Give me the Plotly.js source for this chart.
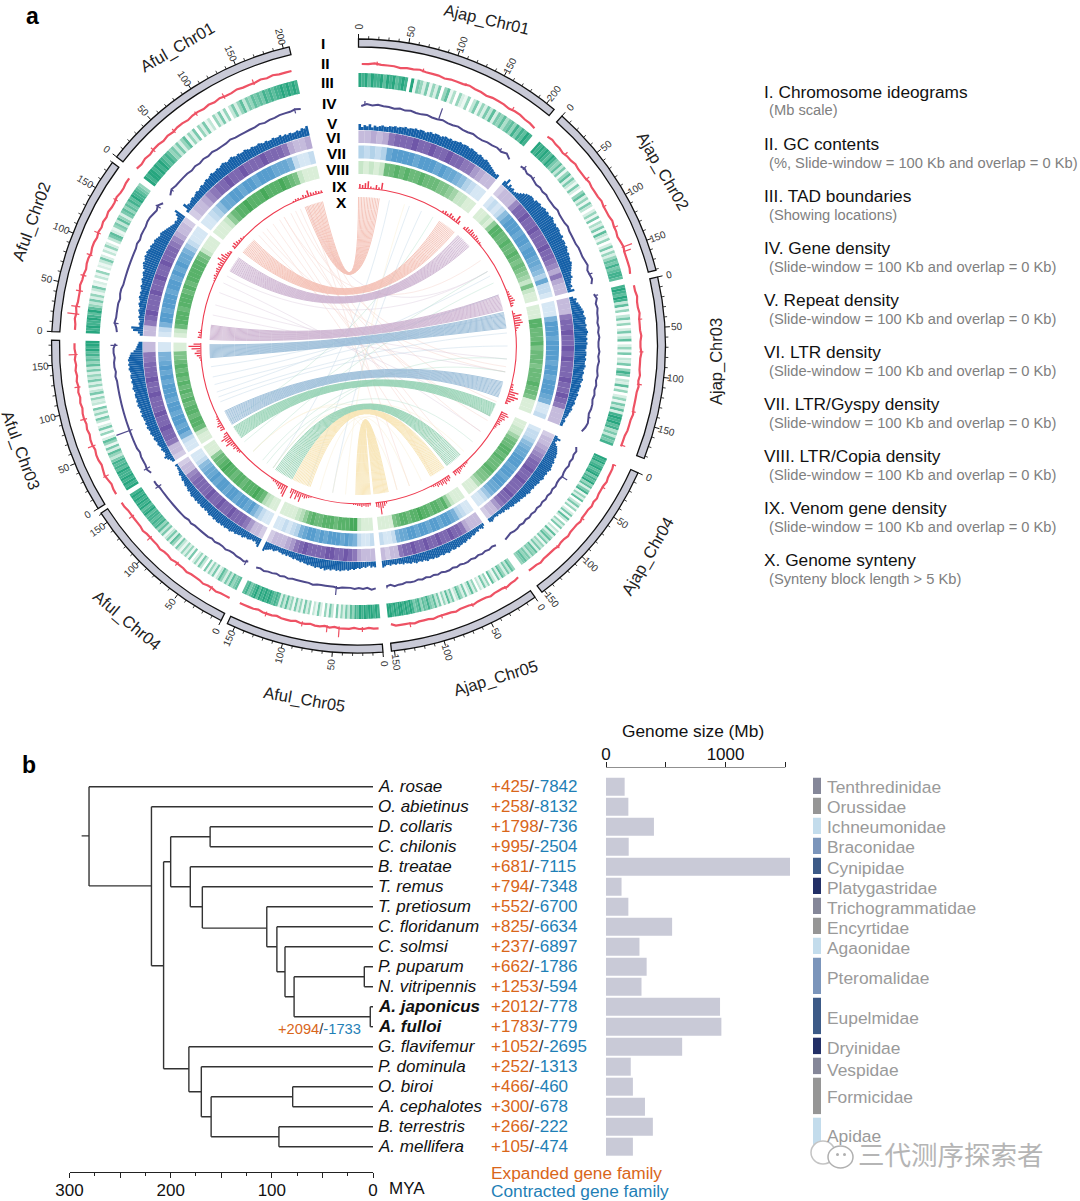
<!DOCTYPE html>
<html><head><meta charset="utf-8">
<script src="https://cdn.plot.ly/plotly-3.0.1.min.js"></script>
<style>html,body{margin:0;padding:0;background:#fff}#c{width:1080px;height:1201px}</style>
</head><body><div id="c"></div>
<script>
// ---------- panel a: chromosomes (clockwise from the top)
const chromNames=['Ajap_Chr01','Ajap_Chr02','Ajap_Chr03','Ajap_Chr04','Ajap_Chr05','Aful_Chr05','Aful_Chr04','Aful_Chr03','Aful_Chr02','Aful_Chr01'];
const chromMb=[209.5,181,182.5,153,153,158,161,175,180,206];
const chromGapDeg=[1.9,1.3,2.9,1.6,1.6,1.3,1,1.6,1.3];
const gcValues=[
[30,30,31,30,30,30,29,30,30,31,30,30,30,29,30,30,30,31,30,30,29,30,30,30,29,30,30,29,29,28],
[30,31,30,30,29,30,30,31,30,30,30,31,30,30,30,31,30,30,30,31,30,30,29,30,31,30,30,30,30,29],
[30,30,31,30,30,31,30,30,30,31,30,30,31,30,30,30,31,30,31,30,30,30,30,31,30,30,30,29,29,29],
[29,30,30,30,31,30,30,30,31,30,31,30,30,30,31,30,30,30,31,30,30,31,30,30,30,30,31,30,30,30],
[29,30,30,31,30,30,30,31,30,30,30,31,30,30,30,31,30,30,30,30,31,30,30,30,31,30,30,30,30,28],
[31,31,30,31,31,30,31,31,31,30,31,30,31,31,30,31,31,30,31,31,31,30,31,31,31,30,31,31,31,31],
[31,31,31,32,31,31,32,31,31,31,32,31,31,31,32,31,31,32,31,31,31,31,32,31,31,31,31,31,32,32],
[32,32,31,32,33,32,31,32,32,31,32,32,31,32,31,32,32,31,32,31,32,31,32,31,32,31,32,31,32,32],
[32,32,33,32,33,32,32,32,33,32,32,31,32,32,31,32,32,31,32,31,32,31,32,31,31,32,31,31,32,32],
[32,31,32,31,32,32,31,32,31,32,32,31,32,32,31,32,31,32,31,31,32,31,31,31,32,31,32,31,31,31]];
const gcSpikes=[[1,148,292],[1,153,289],[2,178,285],[3,3,284],[5,45,292],[5,58,288],[7,60,289],[7,160,290],[8,20,293],[8,28,290],[8,62,287],[9,60,286],
[0,20,285],[0,70,285],[0,118,284],[0,175,285],[1,30,285],[1,65,286],[1,100,285],[1,125,286],[2,40,285],[2,75,285],[2,110,286],[2,140,285],[3,30,285],[3,70,285],[3,110,285],
[4,20,285],[4,60,285],[4,95,285],[4,130,286],[5,20,286],[5,85,286],[5,125,286],[6,25,287],[6,70,286],[6,110,287],[6,140,287],[7,25,287],[7,90,288],[7,125,287],[8,45,288],[8,85,287],[8,110,288],[8,150,286],[9,30,287],[9,90,286],[9,125,287],[9,160,287]];
const tadValues=[
[9,8,9,7,9,8,8,9,7,9,8,9,7,8,9,8,0,9,1,6,5,2,6,1,5,2,6,0,5,7,1,4,0,5,2,1,5,0,3,6,1,5,2,6,3,7,2,6,5,7,4,6,7,5,8,6,8,7,9,8],
[9,8,9,8,9,8,7,9,8,6,5,7,3,6,1,5,7,2,6,3,1,6,2,0,5,7,2,5,1,6,3,0,2,5,1,6,0,4,2,6,1,7,3,1,5,0,2,6,1,5,2,5,7,6,8,6,7,8,8,7],
[8,9,8,7,9,8,3,7,1,5,0,3,6,1,5,0,2,6,1,3,7,0,2,5,1,6,0,3,2,6,0,5,8,6,0,3,2,7,1,5,0,2,5,1,6,3,7,2,8,9,8,9,7,8,4,6,3,7,6,8],
[9,8,9,7,8,9,7,8,9,6,8,7,9,5,7,2,6,8,1,5,2,7,0,3,6,1,5,0,2,6,1,7,3,0,5,2,6,0,3,1,7,2,5,7,3,6,1,5,3,6,2,7,5,6,3,6,5,7,6,5],
[5,7,3,6,2,5,7,2,6,1,3,7,0,5,2,6,1,3,0,5,2,7,3,1,6,2,5,7,3,1,6,3,7,2,5,1,6,3,7,5,6,8,6,7,5,8,7,6,8,9,8,9,8,9,9,8,9,8,9,9],
[8,9,8,9,9,8,9,8,9,7,8,5,7,3,6,2,5,1,6,0,3,6,1,5,0,2,6,1,3,0,5,2,6,1,5,2,6,1,5,3,7,3,6,2,7,8,7,8,9,8,9,8,9,7,9,8,7,6,8,7],
[7,6,5,7,3,6,2,5,7,3,1,6,2,5,1,6,0,3,6,1,5,2,0,6,1,5,2,5,1,3,6,1,5,7,2,6,3,1,6,3,7,5,8,7,8,7,8,8,7,9,8,7,9,8,9,8,9,8,9,8],
[9,8,9,8,9,8,8,9,7,8,7,8,6,3,5,7,2,6,1,5,7,2,0,5,1,6,2,0,3,6,1,5,2,6,0,3,2,5,1,6,3,1,5,2,6,3,5,2,6,3,7,5,7,6,8,7,9,8,9,9],
[9,8,9,8,8,9,8,7,9,7,5,3,6,2,5,1,3,6,1,2,0,3,1,5,0,2,1,3,6,2,0,3,1,5,2,0,3,6,7,2,1,5,6,3,7,5,2,6,7,5,7,6,8,7,9,8,8,7,6,5],
[9,8,9,9,8,9,8,9,8,7,8,7,5,6,3,6,2,5,7,1,5,2,6,0,5,2,6,1,3,0,5,2,6,1,5,0,3,6,2,5,7,3,6,5,7,6,7,6,8,7,8,7,8,8,9,8,9,8,9,8]];
const geneValues=[
[4,6,5,6,5,5,4,5,4,5,4,4,5,4,4,5,4,4,5,4,4,5,4,4,5,5,6,5,7,4],
[6,7,5,6,5,4,5,4,5,4,4,4,5,4,4,4,5,4,4,4,4,5,5,5,6,7,5,6,7,5],
[5,7,5,6,5,5,4,5,4,5,4,4,5,4,5,4,4,5,4,5,4,5,4,5,5,4,5,6,5,3],
[4,6,5,6,5,6,5,5,6,5,5,6,5,6,5,6,5,6,5,6,5,6,5,6,5,6,6,5,6,7],
[6,5,6,5,6,5,6,5,6,6,5,6,5,6,6,5,6,5,6,5,6,5,6,6,5,6,6,7,5,6],
[7,8,6,7,6,7,6,6,6,7,6,6,6,6,6,7,6,6,6,6,6,7,6,7,6,7,7,8,7,8],
[6,8,7,7,6,6,7,6,6,7,6,7,7,7,7,7,8,7,8,8,8,8,8,8,8,8,8,8,9,9],
[7,9,8,8,8,7,8,8,8,8,8,8,8,8,8,8,8,8,8,8,8,8,9,8,9,9,8,9,9,7],
[6,7,9,8,8,8,8,7,8,8,7,7,7,7,7,7,7,7,7,8,7,8,8,8,9,9,8,7,9,6],
[5,8,7,7,7,7,6,7,6,7,6,7,6,6,6,7,6,6,6,6,6,7,6,7,7,8,8,8,9,8]];
const geneSpikes=[[0,103,252],[3,44,248],[5,52,250],[7,62,258],[8,14,246],[0,8,245],[0,190,244],[1,8,246],[1,25,244],[1,165,245],[2,5,245],[2,160,243],[4,150,244],[6,5,247],[6,150,248],[7,10,248],[7,170,248],[8,170,247],[9,195,246],[9,10,244]];
const repeatValues=[
[6,3,5,4,6,3,5,4,5,6,5,5,6,6,7,6,7,7,8,7,8,8,9,8,9,9,8,9,10,9,10,10,9,10,11,10,11,10,11,11,12,11,12,12,11,12,11,11,10,11,10,9,10,9,8,7,6,5,4,5],
[5,9,3,6,4,5,3,4,5,7,9,11,12,13,13,12,14,14,15,14,15,16,15,16,15,16,17,16,15,16,15,16,16,15,15,16,14,15,15,14,15,14,13,14,13,13,12,13,12,11,10,9,8,9,7,6,5,6,4,7],
[4,7,6,8,9,10,11,12,11,12,13,12,12,13,12,13,14,13,12,13,12,13,12,12,11,12,12,11,12,11,11,12,11,10,11,10,10,11,10,9,10,9,9,8,9,8,8,7,8,7,6,7,6,5,5,4,3,4,3,3],
[3,7,4,3,5,7,8,9,10,10,11,10,11,12,11,12,12,13,12,11,12,11,11,12,11,10,11,10,10,9,10,9,9,10,9,8,9,8,8,7,8,7,7,6,7,6,5,6,5,4,5,4,4,3,4,3,3,4,5,4],
[3,5,4,3,5,4,5,6,5,6,7,6,7,8,7,8,8,9,8,9,9,8,9,10,9,9,10,9,9,10,10,9,10,9,9,10,9,8,9,8,8,9,8,7,8,7,7,6,7,6,6,5,6,5,5,6,5,5,6,7],
[6,5,6,4,5,6,5,6,7,6,7,8,7,8,9,8,9,9,10,9,10,9,9,10,9,10,11,9,10,9,9,10,9,9,8,9,8,8,7,8,7,7,6,7,6,6,5,6,5,6,5,5,4,5,6,5,6,7,8,10],
[9,7,5,6,5,6,7,6,7,8,7,8,8,9,8,9,10,9,9,10,9,10,9,10,10,9,10,9,9,10,9,8,9,8,9,9,8,9,8,9,8,8,9,8,7,8,7,6,7,6,5,6,5,4,5,4,3,3,2,3],
[3,4,6,8,6,5,6,7,6,7,8,7,8,9,8,9,10,9,10,11,10,11,10,11,11,12,11,12,11,12,13,12,13,12,13,13,12,13,14,13,13,14,13,14,14,13,14,15,14,15,14,15,14,13,12,9,7,6,5,4],
[3,5,10,12,4,5,4,5,6,5,6,7,6,7,8,7,8,9,8,9,8,9,10,9,10,11,10,11,12,11,13,14,15,14,15,16,15,16,15,14,15,14,13,14,13,12,11,12,11,10,9,8,7,6,5,6,5,6,9,12],
[3,9,6,5,6,7,6,7,8,7,8,9,8,9,10,9,10,11,10,10,11,10,11,12,11,10,11,12,11,10,11,10,10,11,10,9,10,9,9,10,9,8,9,8,8,9,8,8,9,7,8,7,8,7,7,8,7,9,8,10]];
const ltrHeat=[
[3,3,4,3,4,7,8,8,8,9,8,8,9,8,8,9,8,8,7,7,5,4,3,3],
[2,3,3,3,6,8,8,9,8,8,9,8,8,8,9,8,8,7,6,4,7,4,3,3],
[3,3,3,7,8,8,9,8,8,9,8,9,8,8,8,9,8,8,9,8,7,3,3,3],
[2,3,3,4,5,6,7,8,8,9,8,8,9,8,8,8,9,8,8,7,5,3,3,2],
[3,3,3,4,7,8,8,9,8,8,9,8,8,9,8,8,9,8,8,7,3,3,2,3],
[3,3,3,4,7,8,9,8,8,9,9,8,8,8,8,9,8,7,5,4,3,3,3,2],
[2,3,3,5,7,8,8,8,9,8,8,9,8,8,9,8,8,8,8,7,6,3,3,2],
[2,3,3,7,8,8,9,8,8,9,8,8,8,9,8,8,9,8,8,8,7,7,3,3],
[3,3,7,8,9,8,8,8,9,8,8,9,8,8,9,8,8,8,7,6,4,3,3,2],
[2,3,3,4,6,7,8,8,9,8,8,9,8,8,8,9,8,8,8,7,4,3,3,4]];
const gypsyHeat=[
[3,2,3,2,3,7,8,8,8,8,7,8,8,8,7,8,7,7,6,5,3,2,1,1],
[1,2,1,2,5,7,8,8,8,7,8,8,7,8,8,7,7,6,5,3,7,2,2,1],
[1,1,1,6,8,8,8,7,8,8,8,8,7,8,8,7,8,8,8,7,6,1,1,2],
[1,2,2,3,5,6,7,7,8,8,8,7,8,8,7,8,8,7,7,6,4,2,1,1],
[1,1,2,3,6,7,8,8,7,8,8,7,8,8,7,8,8,7,7,6,2,1,1,2],
[2,1,1,2,6,7,8,7,8,8,8,7,8,7,8,8,7,6,3,2,1,2,1,1],
[1,1,2,4,6,8,7,8,8,7,8,8,7,8,8,7,8,7,7,6,5,2,1,1],
[1,1,2,6,8,7,8,8,7,8,8,7,8,8,8,7,8,7,8,7,6,6,1,1],
[1,2,6,8,8,7,8,8,8,7,8,8,7,8,7,8,7,7,6,4,2,1,1,1],
[1,1,2,3,5,7,7,8,8,7,8,8,7,8,8,8,7,7,7,6,2,1,1,2]];
const copiaHeat=[
[2,1,2,1,2,7,7,8,7,8,7,7,8,7,7,7,6,6,5,4,2,2,1,1],
[1,1,2,1,5,8,8,7,7,8,7,7,8,7,6,7,6,5,4,2,6,2,1,1],
[1,1,1,8,8,7,7,7,8,6,7,7,7,6,7,7,7,8,7,7,6,1,1,1],
[1,1,2,2,4,6,7,7,8,8,7,8,7,7,7,8,7,6,6,5,3,1,1,1],
[1,1,1,2,5,8,7,8,8,7,8,8,9,8,8,7,8,8,7,6,1,1,1,1],
[1,1,1,2,9,9,8,8,8,7,8,8,8,7,7,8,7,5,3,2,1,1,1,1],
[1,1,2,3,7,8,9,8,8,8,7,8,8,7,8,8,9,8,7,7,5,1,1,1],
[1,1,2,7,8,8,7,8,8,7,8,7,8,7,8,7,8,7,8,7,6,6,1,1],
[1,2,7,8,8,8,7,8,8,8,7,8,7,8,8,8,8,8,7,6,2,1,1,1],
[1,1,1,2,5,7,8,8,9,8,8,8,9,8,8,8,9,8,7,6,2,1,1,1]];
const venomValues=[
[4,3,5,7,2,1,4,2,7,0,0,0,0,0,0,0,0,0,0,0,0,0,0,0,0,0,0,0,0,0,0,0,2,3,2,4,3,2,7,3],
[2,4,3,5,4,3,4,3,2,2,1,0,0,0,0,0,0,0,0,0,0,0,0,0,0,0,0,0,0,0,0,0,1,2,2,3,4,5,3,2],
[0,2,8,6,7,8,5,3,1,0,0,0,0,0,0,0,0,0,0,0,0,0,0,0,0,0,0,0,0,0,0,2,2,3,9,6,10,7,4,2],
[6,8,5,6,4,3,4,2,2,1,0,0,0,0,0,0,0,0,0,0,0,0,0,0,0,0,0,0,0,0,1,2,2,3,2,3,4,5,3,4],
[3,5,4,6,4,5,3,4,2,2,1,0,0,0,0,0,0,0,0,0,0,0,0,0,0,0,0,0,0,0,0,0,0,0,2,4,6,12,5,4],
[2,3,3,2,3,2,2,1,1,0,0,0,0,0,0,0,0,0,0,0,0,0,0,0,0,0,0,0,0,1,2,3,4,3,9,5,8,3,9,4],
[11,9,5,6,4,3,2,2,1,0,0,0,0,0,0,0,0,0,0,0,0,0,0,0,0,0,0,0,2,3,2,4,3,4,8,5,6,9,5,3],
[4,3,5,3,2,2,1,0,0,0,0,0,0,0,0,0,0,0,0,0,0,0,0,0,0,0,0,0,0,0,0,0,1,2,4,6,4,9,12,7],
[3,2,3,1,0,0,0,0,0,0,0,0,0,0,0,0,0,0,0,0,0,0,0,0,0,1,2,3,2,3,4,3,5,4,8,5,7,4,3,2],
[3,4,3,2,2,1,0,0,0,0,0,0,0,0,0,0,0,0,0,0,0,0,0,0,0,0,0,0,1,2,2,1,3,2,6,3,2,3,2,2]];
// synteny blocks: start and end angle on each side (deg) and colour
const bandA0=[0,33,42,70,77,104,113,137,145,168.5];
const bandA1=[8,40,48,76,83,110,118,143.5,151,174];
const bandB0=[346,315.3,306.3,278,270.5,244,237,213.8,206,181];
const bandB1=[339,309.1,300.3,272.5,265.5,238.3,232,206.6,199,175.5];
const bandColor=['#f3baae','#f3baae','#c9aecd','#c9aecd','#93b8d6','#93b8d6','#8ccfae','#8ccfae','#f8e3ae','#f8e3ae'];
const strayA=[150,140,143,118,120,100,125,137,112,98,160,165,125,118,95,100,60,70,78,85,62,90,70,60,65,100,95,130,150,135,20,25,30,12,18,55,60,170,165,160,155];
const strayB=[322,325,328,318,330,320,337,333,342,335,344,340,295,291,286,282,298,258,255,250,252,248,262,230,225,220,215,218,225,210,200,190,240,215,185,330,340,215,225,195,190];
const strayColor=[0,0,0,0,0,0,0,0,0,0,0,0,1,1,1,1,1,2,2,2,2,2,2,3,3,3,3,3,4,4,2,2,3,2,4,0,1,4,4,4,4];
const strayPalette=['#f5c9c0','#d6c2d8','#b4cfe2','#a9dcc4','#f9ebc8'];
// ---------- panel b
const species=['A. rosae','O. abietinus','D. collaris','C. chilonis','B. treatae','T. remus','T. pretiosum','C. floridanum','C. solmsi','P. puparum','N. vitripennis','A. japonicus','A. fulloi','G. flavifemur','P. dominula','O. biroi','A. cephalotes','B. terrestris','A. mellifera'];
const expanded=[425,258,1798,995,681,794,552,825,237,662,1253,2012,1783,1052,252,466,300,266,105];
const contracted=[7842,8132,736,2504,7115,7348,6700,6634,6897,1786,594,778,779,2695,1313,460,678,222,474];
const genomeMb=[156,187,401,190,1539,130,187,553,280,340,297,954,965,637,207,225,326,392,225];
const treeHFrom=[288,280.7,280.7,219,219,207,207,200,200,161,161,180.6,180.6,168.7,168.7,105,105,95,95,87,87,78,78,8.6,8.6,2.7,2.7,182,182,169.7,169.7,160,160,79.4,79.4,93,93];
const treeHTo=[280.7,0,219,0,207,200,182,161,180.6,0,0,0,168.7,0,105,0,95,0,87,0,78,8.6,2.7,0,0,0,0,0,169.7,0,160,79.4,93,0,0,0,0];
const treeHRow=[2.46,0,4.96,1,8.95,3.75,14.1,2.5,5,2,3,4,6,5,7.07,6,8,7,9.25,8,10.5,9.5,11.5,9,10,11,12,13,15.25,14,16.5,15.5,17.5,15,16,17,18];
const treeVAge=[280.7,219,207,200,161,180.6,168.7,105,95,87,78,8.6,2.7,182,169.7,160,79.4,93];
const treeVTop=[0,1,3.75,2.5,2,4,5,6,7,8,9.5,9,11,13,14,15.5,15,17];
const treeVBot=[4.96,8.95,14.1,5,3,6,7.07,8,9.25,10.5,11.5,10,12,15.25,16.5,17.5,16,18];
const familyNames=['Tenthredinidae','Orussidae','Ichneumonidae','Braconidae','Cynipidae','Platygastridae','Trichogrammatidae','Encyrtidae','Agaonidae','Pteromalidae','Eupelmidae','Dryinidae','Vespidae','Formicidae','Apidae'];
const familyFirst=[0,1,2,3,4,5,6,7,8,9,11,13,14,15,17];
const familyLast=[0,1,2,3,4,5,6,7,8,10,12,13,14,16,18];
const familyColor=['#858799','#969696','#c3dcec','#7b95bb','#3c5a87','#222f66','#858799','#969696','#c3dcec','#7b95bb','#3c5a87','#222f66','#858799','#969696','#c3dcec'];
const legendTitles=['I. Chromosome ideograms','II. GC contents','III. TAD boundaries','IV. Gene density','V. Repeat density','VI. LTR density','VII. LTR/Gyspy density','VIII. LTR/Copia density','IX. Venom gene density','X. Genome synteny'];
const window100='(Slide-window = 100 Kb and overlap = 0 Kb)';
const legendNotes=['(Mb scale)','(%, Slide-window = 100 Kb and overlap = 0 Kb)','(Showing locations)',window100,window100,window100,window100,window100,window100,'(Synteny block length > 5 Kb)'];
const romans=['I','II','III','IV','V','VI','VII','VIII','IX','X'];

// ---------- layout constants
const W=1080,H=1201,CX=358.5,CY=346,RMAX=316,DEG_PER_MB=0.189;
const FONT='"Liberation Sans",Arial,sans-serif';
const px=x=>x/W, py=y=>1-y/H;
const ann=[];
function note(text,x,y,o={}){ann.push(Object.assign({text,x:px(x),y:py(y),xref:'paper',yref:'paper',showarrow:false,borderpad:0,borderwidth:0,xanchor:'left',yanchor:'middle',font:{family:FONT,size:17,color:'#111'}},o));}
const chromStart=[];let cursor=0;
chromMb.forEach((m,i)=>{chromStart.push(cursor);cursor+=m*DEG_PER_MB+(chromGapDeg[i]||0);});
const span=i=>chromMb[i]*DEG_PER_MB;
const traces=[];

function ringTrace(mat,base,thick,scale){
  const th=[],w=[],c=[];
  mat.forEach((row,i)=>row.forEach((v,j)=>{const b=span(i)/row.length;th.push(chromStart[i]+(j+.5)*b);w.push(b*1.03);c.push(v);}));
  return {type:'barpolar',theta:th,width:w,r:th.map(()=>thick),base:th.map(()=>base),marker:{color:c,cmin:0,cmax:9,colorscale:scale,line:{width:0}},hoverinfo:'skip'};
}
function lineTrace(mat,off,color,lw){
  const t=[],r=[];
  mat.forEach((row,i)=>{row.forEach((v,j)=>{t.push(chromStart[i]+(j+.5)*span(i)/row.length);r.push(off+v);});t.push(null);r.push(null);});
  return {type:'scatterpolar',mode:'lines',theta:t,r,line:{color,width:lw},hoverinfo:'skip'};
}
function spikeTrace(list,base,color){
  const t=[],r=[];
  list.forEach(([c,mb,top])=>{const a=chromStart[c]+mb*DEG_PER_MB;t.push(a,a,null);r.push(base,top,null);});
  return {type:'scatterpolar',mode:'lines',theta:t,r,line:{color,width:1.2},hoverinfo:'skip'};
}
// ideograms
traces.push({type:'barpolar',theta:chromMb.map((m,i)=>chromStart[i]+span(i)/2),width:chromMb.map((m,i)=>span(i)),
  r:chromMb.map(()=>8),base:chromMb.map(()=>299),marker:{color:'#c9cad7',line:{color:'#111',width:1.3}},hoverinfo:'skip'});
// ticks
const tT=[],tR=[],tT2=[],tR2=[];
chromMb.forEach((m,i)=>{for(let v=0;v<=m;v+=10){const a=chromStart[i]+v*DEG_PER_MB;
  if(v%50===0){tT.push(a,a,null);tR.push(307,312,null);
    const rad=a*Math.PI/180,lr=319;const ang=a<180?a-90:a+90;
    note(String(v),CX+lr*Math.sin(rad),CY-lr*Math.cos(rad),{textangle:ang,xanchor:'center',font:{family:FONT,size:10,color:'#333'}});
  } else {tT2.push(a,a,null);tR2.push(307,310,null);}
}});
traces.push({type:'scatterpolar',mode:'lines',theta:tT,r:tR,line:{color:'#111',width:1},hoverinfo:'skip'});
traces.push({type:'scatterpolar',mode:'lines',theta:tT2,r:tR2,line:{color:'#111',width:.8},hoverinfo:'skip'});
// tracks
traces.push(lineTrace(gcValues,252,'#ee5264',2.2));
traces.push(spikeTrace(gcSpikes,281,'#ee5264'));
traces.push(ringTrace(tadValues,259,14,[[0,'#ffffff'],[.5,'#a4dbc5'],[1,'#27a67f']]));
traces.push(lineTrace(geneValues,236,'#4f4a8c',2));
traces.push(spikeTrace(geneSpikes,241,'#4f4a8c'));
(function(){const th=[],w=[],rr=[];repeatValues.forEach((row,i)=>row.forEach((v,j)=>{const b=span(i)/row.length;th.push(chromStart[i]+(j+.5)*b);w.push(b*1.02);rr.push(v);}));
  traces.push({type:'barpolar',theta:th,width:w,r:rr,base:th.map(()=>216),marker:{color:'#1560a8',line:{width:0}},hoverinfo:'skip'});})();
traces.push(ringTrace(ltrHeat,203,12.5,[[0,'#f0edf6'],[1,'#6f57a8']]));
traces.push(ringTrace(gypsyHeat,187.5,13,[[0,'#e8f1fa'],[1,'#4593c8']]));
traces.push(ringTrace(copiaHeat,172,13,[[0,'#ecf7e8'],[1,'#47a95a']]));
// venom
(function(){const th=[],w=[],rr=[];venomValues.forEach((row,i)=>row.forEach((v,j)=>{if(!v)return;const b=span(i)/row.length;th.push(chromStart[i]+(j+.5)*b);w.push(b*.55);rr.push(v);}));
  traces.push({type:'barpolar',theta:th,width:w,r:rr,base:th.map(()=>158),marker:{color:'#ee3c50',line:{width:0}},hoverinfo:'skip'});
  traces.push({type:'barpolar',theta:chromMb.map((m,i)=>chromStart[i]+span(i)/2),width:chromMb.map((m,i)=>span(i)),r:chromMb.map(()=>1.1),base:chromMb.map(()=>157.2),marker:{color:'#ee3c50',line:{width:0}},hoverinfo:'skip'});})();
// synteny
function curve(a,b,t,r){const R=149,S=24,ra=a*Math.PI/180,rb=b*Math.PI/180;
  const x0=R*Math.sin(ra),y0=R*Math.cos(ra),x2=R*Math.sin(rb),y2=R*Math.cos(rb);
  for(let i=0;i<=S;i++){const u=i/S,x=(1-u)*(1-u)*x0+u*u*x2,y=(1-u)*(1-u)*y0+u*u*y2;
    t.push(Math.atan2(x,y)*180/Math.PI);r.push(Math.hypot(x,y));}
  t.push(null);r.push(null);}
strayPalette.forEach((col,k)=>{const t=[],r=[];strayA.forEach((a,i)=>{if(strayColor[i]===k)curve(a,strayB[i],t,r);});
  traces.push({type:'scatterpolar',mode:'lines',theta:t,r,line:{color:col,width:.6},opacity:.6,hoverinfo:'skip'});});
bandA0.forEach((a0,k)=>{const t=[],r=[],N=14;for(let i=0;i<N;i++){const f=i/(N-1);
    curve(a0+(bandA1[k]-a0)*f,bandB0[k]+(bandB1[k]-bandB0[k])*f,t,r);}
  traces.push({type:'scatterpolar',mode:'lines',theta:t,r,line:{color:bandColor[k],width:.95},opacity:.85,hoverinfo:'skip'});});
traces.forEach(t=>{t.subplot='polar';});

// ---------- panel b traces
const hx=[],hy=[];treeHFrom.forEach((f,i)=>{hx.push(f,treeHTo[i],null);hy.push(treeHRow[i],treeHRow[i],null);});
treeVAge.forEach((a,i)=>{hx.push(a,a,null);hy.push(treeVTop[i],treeVBot[i],null);});
traces.push({type:'scatter',mode:'lines',x:hx,y:hy,xaxis:'x',yaxis:'y',line:{color:'#333',width:1.4},hoverinfo:'skip',cliponaxis:false});
traces.push({type:'bar',orientation:'h',x:genomeMb,y:species.map((s,i)=>i),width:.9,xaxis:'x2',yaxis:'y',marker:{color:'#c9cad7',line:{width:0}},hoverinfo:'skip'});
traces.push({type:'scatter',mode:'lines',x:[0,1500],y:[-0.96,-0.96],xaxis:'x2',yaxis:'y',line:{color:'#222',width:1.2},cliponaxis:false,hoverinfo:'skip'});
traces.push({type:'bar',x:familyFirst.map(()=>.5),width:familyFirst.map(()=>1),base:familyFirst.map(f=>f-.45),y:familyLast.map((l,i)=>l-familyFirst[i]+.82),xaxis:'x3',yaxis:'y',marker:{color:familyColor,line:{width:0}},hoverinfo:'skip'});

// ---------- panel b text (rows placed through the y axis)
function rowNote(text,x,row,o={}){ann.push(Object.assign({text,x:px(x),y:row,xref:'paper',yref:'y',showarrow:false,borderpad:0,borderwidth:0,xanchor:'left',yanchor:'middle',font:{family:FONT,size:17,color:'#111'}},o));}
species.forEach((s,i)=>{
  const bold=i===11||i===12;
  rowNote(bold?'<b><i>'+s+'</i></b>':'<i>'+s+'</i>',378,i);
  rowNote('<span style="color:#d9661a">+'+expanded[i]+'</span><span style="color:#333">/</span><span style="color:#1f7fb6">-'+contracted[i]+'</span>',491,i);
});
const familyRowY=[0,1.02,2,3,4.05,5.05,6.05,7.05,8.05,9.55,11.55,13.05,14.15,15.5,17.45];
familyNames.forEach((f,i)=>rowNote(f,827,familyRowY[i],{font:{family:FONT,size:17.4,color:'#9a9a9a'}}));
rowNote('<span style="color:#d9661a">+2094</span><span style="color:#333">/</span><span style="color:#1f7fb6">-1733</span>',278,12.1,{font:{family:FONT,size:14.7}});

// ---------- panel a text
note('<b>a</b>',26,16,{font:{family:FONT,size:23,color:'#000'}});
note('<b>b</b>',22,765,{font:{family:FONT,size:23,color:'#000'}});
const romanX=[323,325,327,329,332,333,336,337,339,341],romanY=[43,63,82,103,123,137,153,169,186,203];
romans.forEach((r,i)=>note('<b>'+r+'</b>',romanX[i],romanY[i],{xanchor:'center',font:{family:FONT,size:15.5,color:'#000'}}));
const nameX=[486,662,716,648,495,304,127,21,32,177],nameY=[20,171,362,557,678,700,620,450,222,47],nameA=[13,60,-90,-60,-17,10,40,70,-70,-30];
chromNames.forEach((n,i)=>note(n,nameX[i],nameY[i],{xanchor:'center',textangle:nameA[i],font:{family:FONT,size:16.5,color:'#222'}}));
legendTitles.forEach((t,i)=>{const y=91.5+52.1*i;
  note(t,764,y,{font:{family:FONT,size:17.3,color:'#111'}});
  note(legendNotes[i],768.5,y+19,{font:{family:FONT,size:14.7,color:'#808080'}});});
note('Genome size (Mb)',693,731,{xanchor:'center',font:{family:FONT,size:17.3,color:'#111'}});
note('MYA',389,1188);
note('Expanded gene family',491,1173,{font:{family:FONT,size:17.3,color:'#d9661a'}});
note('Contracted gene family',491,1191,{font:{family:FONT,size:17.3,color:'#1f7fb6'}});
note('三代测序探索者',858,1153,{font:{family:'"Noto Sans CJK SC"',size:26.5,color:'#b5b5b5'}});

const shapes=[
 {type:'circle',xref:'paper',yref:'paper',x0:px(811),x1:px(835),y0:py(1164),y1:py(1141),fillcolor:'#fff',line:{color:'#c4c4c4',width:1.5}},
 {type:'circle',xref:'paper',yref:'paper',x0:px(828),x1:px(853),y0:py(1168),y1:py(1146),fillcolor:'#fff',line:{color:'#b0b0b0',width:1.5}},
 {type:'circle',xref:'paper',yref:'paper',x0:px(836),x1:px(839),y0:py(1156),y1:py(1153),fillcolor:'#b0b0b0',line:{width:0}},
 {type:'circle',xref:'paper',yref:'paper',x0:px(843),x1:px(846),y0:py(1156),y1:py(1153),fillcolor:'#b0b0b0',line:{width:0}}
];

const axisFont={family:FONT,size:17,color:'#111'};
const layout={
 width:W,height:H,margin:{l:0,r:0,t:0,b:0},paper_bgcolor:'#fff',plot_bgcolor:'rgba(0,0,0,0)',showlegend:false,
 font:{family:FONT},barmode:'overlay',annotations:ann,shapes,
 polar:{domain:{x:[px(CX-RMAX),px(CX+RMAX)],y:[py(CY+RMAX),py(CY-RMAX)]},bgcolor:'rgba(0,0,0,0)',barmode:'overlay',bargap:0,
   radialaxis:{visible:false,range:[0,RMAX],showgrid:false},
   angularaxis:{visible:false,rotation:90,direction:'clockwise',showgrid:false}},
 xaxis:{domain:[px(69.5),px(373)],range:[300,0],anchor:'y',side:'bottom',showgrid:false,zeroline:false,showline:true,linecolor:'#222',linewidth:1.2,
   ticks:'outside',ticklen:5,tickcolor:'#222',tickwidth:1,tickvals:[300,250,200,150,100,50,0],ticktext:['300','','200','','100','','0'],tickfont:axisFont,ticklabelstandoff:-3,
   minor:{tickvals:[275,225,175,125,75,25],ticks:'outside',ticklen:2.5,tickcolor:'#222',tickwidth:1}},
 xaxis2:{domain:[px(606),px(792.5)],range:[0,1560],anchor:'y',side:'top',showgrid:false,zeroline:false,showline:false,
   ticks:'outside',ticklen:5,tickcolor:'#222',tickvals:[0,500,1000,1500],ticktext:['0','','1000',''],tickfont:axisFont,ticklabelstandoff:-5},
 xaxis3:{domain:[px(813),px(821)],range:[0,1],anchor:'y',visible:false},
 yaxis:{domain:[py(1172),py(767.5)],range:[19.265,-0.96],visible:false,showgrid:false,zeroline:false}
};
Plotly.newPlot('c',traces,layout,{displayModeBar:false,staticPlot:true});
</script></body></html>
